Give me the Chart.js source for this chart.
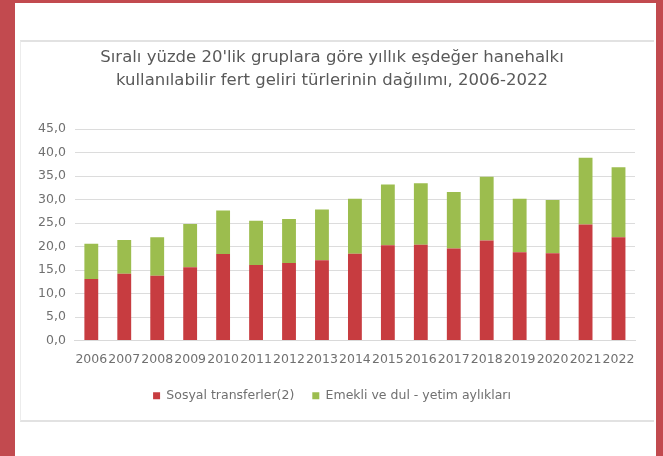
<!DOCTYPE html>
<html lang="tr">
<head>
    <meta charset="UTF-8">
    <title>Sıralı yüzde 20'lik gruplara göre gelir türleri</title>
    <script src="https://cdn.jsdelivr.net/npm/chart.js"></script>
    <style>
        html, body {
            margin: 0;
            padding: 0;
        }
        body {
            width: 663px;
            height: 456px;
            background: #c24a4f;
            position: relative;
            overflow: hidden;
            font-family: "DejaVu Sans", sans-serif;
        }
        /* white page inside the red frame */
        #page {
            position: absolute;
            left: 15px;
            top: 3px;
            width: 641px;
            height: 453px;
            background: #fff;
        }
        /* chart box with thin grey border */
        #box {
            position: absolute;
            left: 5px;
            top: 37px;
            width: 634px;
            height: 382px;
            border-top: 2px solid #e2e2e2;
            border-bottom: 2px solid #e2e2e2;
            border-left: 1px solid #ececec;
            box-sizing: border-box;
        }
        #chart {
            position: absolute;
            left: 0;
            top: 0;
        }
    </style>
</head>
<body>
    <div id="page">
        <div id="box">
            <canvas id="chart" width="634" height="378"></canvas>
        </div>
    </div>
    <script>
        // years on the x axis
        var years = ['2006', '2007', '2008', '2009', '2010', '2011', '2012', '2013', '2014',
                     '2015', '2016', '2017', '2018', '2019', '2020', '2021', '2022'];

        // Sosyal transferler(2) - lower (red) part of each bar
        var sosyal = [13.1, 14.2, 13.8, 15.6, 18.4, 16.1, 16.5, 17.1, 18.5,
                      20.3, 20.4, 19.6, 21.3, 18.8, 18.6, 24.7, 22.0];

        // Emekli ve dul - yetim aylıkları - upper (green) part
        var emekli = [7.5, 7.2, 8.2, 9.2, 9.3, 9.4, 9.4, 10.8, 11.7,
                      12.9, 13.1, 12.0, 13.6, 11.4, 11.3, 14.2, 14.9];

        var seriesNames = ['Sosyal transferler(2)', 'Emekli ve dul - yetim aylıkları'];
        var titleLines = ["Sıralı yüzde 20'lik gruplara göre yıllık eşdeğer hanehalkı",
                          'kullanılabilir fert geliri türlerinin dağılımı, 2006-2022'];

        var grey = '#707070';
        var face = 'DejaVu Sans';

        new Chart(document.getElementById('chart'), {
            type: 'bar',
            data: {
                labels: years,
                datasets: [{
                    label: seriesNames[0],
                    data: sosyal,
                    backgroundColor: '#c73c40',
                    categoryPercentage: 1.0,
                    barPercentage: 0.42
                }, {
                    label: seriesNames[1],
                    data: emekli,
                    backgroundColor: '#9cbd4e',
                    categoryPercentage: 1.0,
                    barPercentage: 0.42
                }]
            },
            options: {
                responsive: false,
                animation: false,
                layout: {
                    padding: { left: 8, right: 20, top: 0, bottom: 8 }
                },
                plugins: {
                    title: {
                        display: true,
                        text: titleLines,
                        color: '#595959',
                        font: { family: face, size: 16.5, weight: 'normal', lineHeight: 1.4 },
                        padding: { top: 4, bottom: 37 }
                    },
                    legend: {
                        position: 'bottom',
                        labels: {
                            color: grey,
                            font: { family: face, size: 12.5 },
                            boxWidth: 7,
                            boxHeight: 7,
                            padding: 18
                        }
                    },
                    tooltip: { enabled: false }
                },
                scales: {
                    x: {
                        stacked: true,
                        grid: { display: false },
                        border: { color: '#d9d9d9' },
                        ticks: {
                            color: grey,
                            font: { family: face, size: 12.5 },
                            autoSkip: false,
                            maxRotation: 0,
                            minRotation: 0,
                            padding: 4
                        }
                    },
                    y: {
                        stacked: true,
                        min: 0,
                        max: 45,
                        grid: { color: '#dcdcdc', drawTicks: false },
                        border: { display: false },
                        ticks: {
                            stepSize: 5,
                            color: grey,
                            font: { family: face, size: 12.5 },
                            padding: 9,
                            callback: function (v) {
                                return v.toFixed(1).replace('.', ',');
                            }
                        }
                    }
                }
            }
        });
    </script>
</body>
</html>
